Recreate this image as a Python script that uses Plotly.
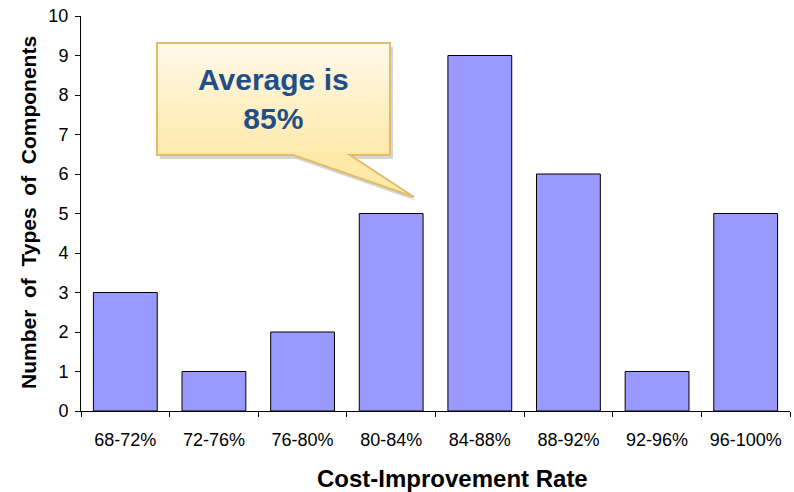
import plotly.graph_objects as go

categories = ["68-72%", "72-76%", "76-80%", "80-84%", "84-88%", "88-92%", "92-96%", "96-100%"]
counts = [3, 1, 2, 5, 9, 6, 1, 5]
y_ticks = list(range(0, 11))
callout_text = "<b>Average is<br>85%</b>"
x_title = "Cost-Improvement Rate"
y_title = "Number\u00a0\u00a0of\u00a0\u00a0Types\u00a0\u00a0of\u00a0\u00a0Components"

W, H = 794, 492
L, R, T, B = 81, 4, 16, 81
PW, PH = W - L - R, H - T - B

def px(x):
    return (x - L) / PW

def py(y):
    return (H - B - y) / PH

FONT = "Liberation Sans, Arial, sans-serif"

fig = go.Figure()
fig.add_trace(go.Bar(
    x=categories, y=counts,
    marker=dict(color="#9999FF", line=dict(color="black", width=1)),
))

# callout geometry (pixels)
bx0, bx1, by0, by1 = 157, 390, 43, 155
tail = [(293, 155), (414, 197), (350, 155)]

def callout_path(dx=0, dy=0):
    pts = [(bx0, by0), (bx1, by0), (bx1, by1), (tail[2][0], by1), tail[1], (tail[0][0], by1), (bx0, by1)]
    s = "M " + " L ".join(f"{px(x+dx):.5f},{py(y+dy):.5f}" for x, y in pts) + " Z"
    return s

shapes = []
shapes.append(dict(type="path", xref="paper", yref="paper", path=callout_path(3, 4),
                   fillcolor="rgba(0,0,0,0.16)", line=dict(width=0), layer="above"))
shapes.append(dict(type="path", xref="paper", yref="paper", path=callout_path(),
                   fillcolor="#FDE9A8", line=dict(width=0), layer="above"))
top_c = (255, 249, 232)
bot_c = (253, 233, 170)
n = 28
for i in range(n):
    y0 = by0 + (by1 - by0) * i / n
    y1 = by0 + (by1 - by0) * (i + 1) / n + 0.5
    t = i / (n - 1)
    c = tuple(int(round(a + (b - a) * t)) for a, b in zip(top_c, bot_c))
    shapes.append(dict(type="rect", xref="paper", yref="paper",
                       x0=px(bx0), x1=px(bx1), y0=py(min(y1, by1)), y1=py(y0),
                       fillcolor=f"rgb{c}", line=dict(width=0), layer="above"))
shapes.append(dict(type="path", xref="paper", yref="paper", path=callout_path(),
                   fillcolor="rgba(0,0,0,0)", line=dict(color="#E2BC6A", width=2), layer="above"))

annotations = [
    dict(text=callout_text, xref="paper", yref="paper", x=px((bx0 + bx1) / 2), y=py((by0 + by1) / 2),
         showarrow=False, font=dict(family=FONT, size=30, color="#1F4E8A"),
         xanchor="center", yanchor="middle"),
    dict(text=f"<b>{x_title}</b>", xref="paper", yref="paper", x=px(452), y=py(478),
         showarrow=False, font=dict(family=FONT, size=24, color="black"),
         xanchor="center", yanchor="middle"),
    dict(text=f"<b>{y_title}</b>", xref="paper", yref="paper", x=px(28), y=py(213),
         showarrow=False, textangle=-90, font=dict(family=FONT, size=21, color="black"),
         xanchor="center", yanchor="middle"),
]

fig.update_layout(
    width=W, height=H,
    margin=dict(l=L, r=R, t=T, b=B, pad=0),
    paper_bgcolor="white", plot_bgcolor="white",
    showlegend=False, bargap=0.28,
    font=dict(family=FONT, size=18, color="black"),
    shapes=shapes, annotations=annotations,
    xaxis=dict(type="category", range=[-0.5, 7.5], showline=True, linecolor="black", linewidth=1,
               ticks="outside", tickson="boundaries", ticklen=5, tickcolor="black",
               showgrid=False, zeroline=False, tickfont=dict(size=18), ticklabelstandoff=12),
    yaxis=dict(range=[0, 10], tickvals=y_ticks, showline=True, linecolor="black", linewidth=1,
               ticks="outside", ticklen=5, tickcolor="black", showgrid=False, zeroline=False,
               tickfont=dict(size=18), ticklabelstandoff=3),
)

fig.write_html("out.html")
